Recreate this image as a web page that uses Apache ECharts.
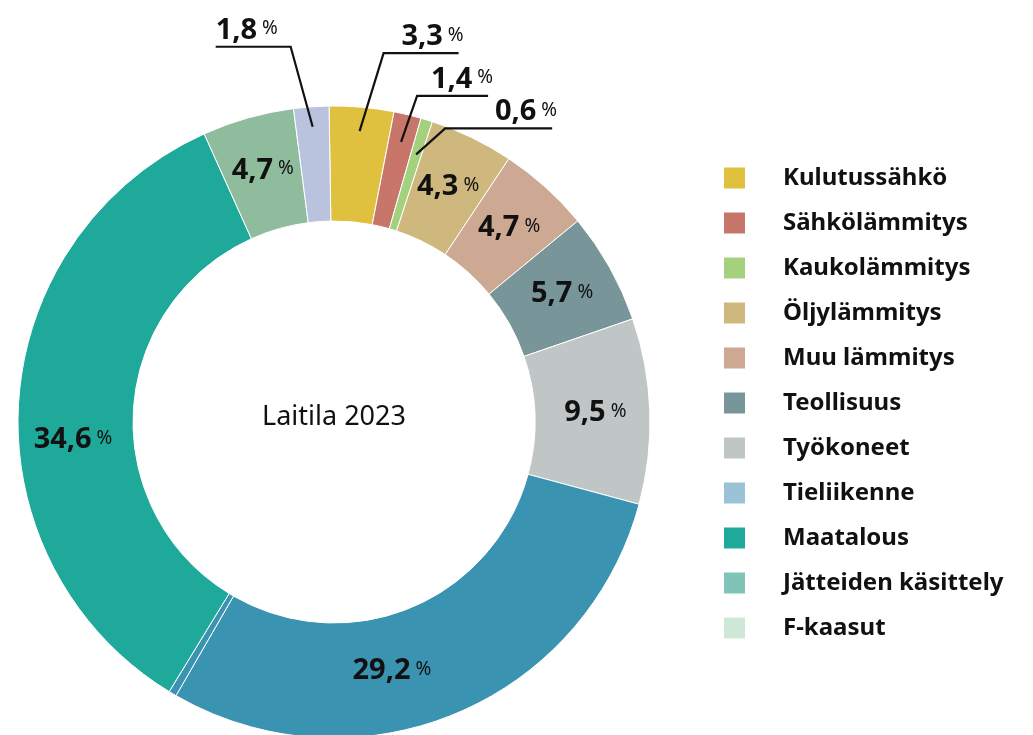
<!DOCTYPE html>
<html>
<head>
<meta charset="utf-8">
<script src="https://cdn.jsdelivr.net/npm/echarts@6/dist/echarts.min.js"></script>
<style>
  html, body { margin: 0; padding: 0; background: #fff; }
  #chart { width: 1033px; height: 735px; }
</style>
</head>
<body>
<div id="chart"></div>
<script>
// slices, clockwise from the top
var sliceNames = ['Kulutussähkö', 'Sähkölämmitys', 'Kaukolämmitys', 'Öljylämmitys', 'Muu lämmitys',
  'Teollisuus', 'Työkoneet', 'Tieliikenne', 'Muu liikenne', 'Maatalous', 'Jätteiden käsittely', 'F-kaasut']
var sliceValues = [3.3, 1.4, 0.6, 4.3, 4.7, 5.7, 9.5, 29.2, 0.4, 34.6, 4.7, 1.8]
var sliceColors = ['#dfc13f', '#c9766a', '#a3d17d', '#cfb87e', '#cda892',
  '#789699', '#c0c6c6', '#3a93b0', '#3a93b0', '#1fa99b', '#8fbc9c', '#b9c3de']

// legend entries and their swatch colours
var legendNames = ['Kulutussähkö', 'Sähkölämmitys', 'Kaukolämmitys', 'Öljylämmitys', 'Muu lämmitys',
  'Teollisuus', 'Työkoneet', 'Tieliikenne', 'Maatalous', 'Jätteiden käsittely', 'F-kaasut']
var legendColors = ['#dfc13f', '#c9766a', '#a3d17d', '#cfb87e', '#cda892',
  '#789699', '#c0c6c6', '#9bc3d6', '#1fa99b', '#80c4b8', '#cde8d6']

var centerTitle = 'Laitila 2023'

// layout
var CX = 334
var CY = 422
var R_IN = 201
var R_OUT = 316
var START = 90.9

// labels drawn outside with a leader line
var leaders = {
  'Kulutussähkö': { inset: 24, elbow: [24, -78], len: 75 },
  'Sähkölämmitys': { inset: 28, elbow: [16, -46], len: 71 },
  'Kaukolämmitys': { inset: 36, elbow: [29, -26], len: 107 },
  'F-kaasut': { inset: 20, elbow: [-22, -80], len: -75 }
}
// nudges for a few inside labels
var insideShift = {
  'Tieliikenne': [-42, 7],
  'Maatalous': [0, 34]
}
var noLabel = { 'Muu liikenne': true }

var chart = echarts.init(document.getElementById('chart'), null, { renderer: 'canvas' })

var total = sliceValues.reduce(function (a, b) { return a + b }, 0)

function midPoint(idx, r) {
  var cum = 0
  for (var i = 0; i < idx; i++) cum += sliceValues[i]
  var deg = START - (cum + sliceValues[idx] / 2) / total * 360
  var rad = deg * Math.PI / 180
  return [CX + r * Math.cos(rad), CY - r * Math.sin(rad)]
}

function fmt(v) {
  return v.toFixed(1).replace('.', ',')
}

var labelFormatter = function (p) {
  return '{v|' + fmt(p.value) + '}{p| %}'
}

var richStyle = {
  v: { fontFamily: 'Noto Sans', fontWeight: 'bold', fontSize: 29, color: '#111' },
  p: { fontFamily: 'Noto Sans', fontWeight: 'normal', fontSize: 19, color: '#111', padding: [0, 0, 3, 0] }
}

// coloured ring with the inside labels
var ringData = sliceNames.map(function (name, i) {
  var showIn = !noLabel[name] && !leaders[name]
  return {
    name: name,
    value: sliceValues[i],
    itemStyle: { color: sliceColors[i] },
    label: { show: showIn, offset: insideShift[name] || [0, 0] }
  }
})

// transparent copy on top, carrying the leader lines and outside labels
var leaderData = sliceNames.map(function (name, i) {
  var has = !!leaders[name]
  return {
    name: name,
    value: sliceValues[i],
    label: { show: has },
    labelLine: { show: has }
  }
})

var option = {
  animation: false,
  legend: {
    orient: 'vertical',
    left: 724,
    top: 166,
    padding: 0,
    itemWidth: 21,
    itemHeight: 21,
    itemGap: 21,
    selectedMode: false,
    icon: 'rect',
    itemStyle: { borderWidth: 0 },
    textStyle: {
      fontFamily: 'Noto Sans',
      fontWeight: 'bold',
      fontSize: 24,
      lineHeight: 21,
      color: '#111',
      padding: [0, 0, 0, 33]
    },
    data: legendNames.map(function (n, i) {
      return { name: n, itemStyle: { color: legendColors[i], borderWidth: 0 } }
    })
  },
  graphic: [{
    type: 'text',
    x: CX,
    y: 417,
    style: {
      text: centerTitle,
      fontFamily: 'Noto Sans',
      fontSize: 27,
      fill: '#111',
      textAlign: 'center',
      textVerticalAlign: 'middle'
    }
  }],
  series: [{
    type: 'pie',
    z: 2,
    center: [CX, CY],
    radius: [R_IN, R_OUT],
    startAngle: START,
    clockwise: true,
    itemStyle: { borderColor: '#fff', borderWidth: 1 },
    emphasis: { disabled: true },
    label: {
      position: 'inside',
      formatter: labelFormatter,
      rich: richStyle
    },
    labelLine: { show: false },
    data: ringData
  }, {
    type: 'pie',
    z: 5,
    silent: true,
    center: [CX, CY],
    radius: [R_IN, R_OUT],
    startAngle: START,
    clockwise: true,
    avoidLabelOverlap: false,
    itemStyle: { color: 'rgba(0,0,0,0)', borderWidth: 0 },
    emphasis: { disabled: true },
    label: {
      position: 'outside',
      formatter: labelFormatter,
      rich: richStyle
    },
    labelLine: { lineStyle: { color: '#111', width: 2.2 } },
    labelLayout: function (params) {
      var name = sliceNames[params.dataIndex]
      var cfg = leaders[name]
      if (!cfg) return {}
      var s = midPoint(params.dataIndex, R_OUT - cfg.inset)
      var e = [s[0] + cfg.elbow[0], s[1] + cfg.elbow[1]]
      var t = [e[0] + cfg.len, e[1]]
      var right = cfg.len > 0
      return {
        x: right ? t[0] + 5 : t[0],
        y: t[1] - 2,
        align: right ? 'right' : 'left',
        verticalAlign: 'bottom',
        labelLinePoints: [s, e, t]
      }
    },
    data: leaderData
  }]
}

chart.setOption(option)
</script>
</body>
</html>
